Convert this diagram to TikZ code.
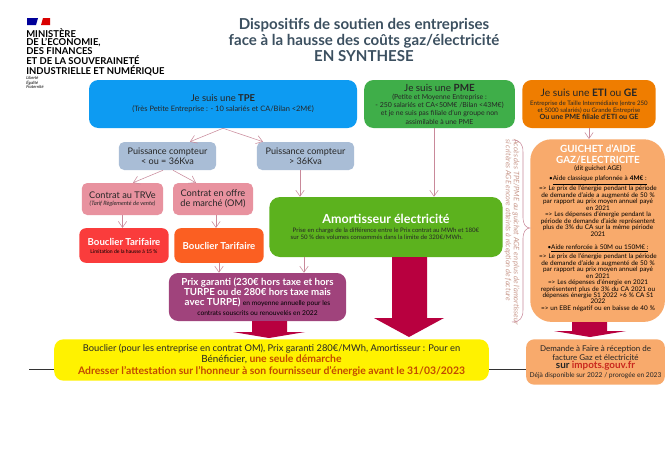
\documentclass[tikz,border=0pt]{standalone}
\usepackage{fontspec}
\usepackage{xcolor}
\setmainfont{Lato}
\usetikzlibrary{arrows.meta, positioning}
\definecolor{tpeblue}{HTML}{0D9BF2}
\definecolor{pmegreen}{HTML}{3FAE49}
\definecolor{etiorange}{HTML}{EF7D00}
\definecolor{steelbox}{HTML}{A9BDD6}
\definecolor{rosebox}{HTML}{E8929F}
\definecolor{bredbox}{HTML}{FA3C3C}
\definecolor{borangebox}{HTML}{FB5F22}
\definecolor{amortgreen}{HTML}{5CB21E}
\definecolor{prixpurple}{HTML}{A0437C}
\definecolor{sandbox}{HTML}{F8AA6C}
\definecolor{bigred}{HTML}{B8003F}
\definecolor{titleslate}{HTML}{3C5060}
\definecolor{linkpink}{HTML}{C9899A}
\definecolor{redtext}{HTML}{C8281E}
\definecolor{demtext}{HTML}{C24A00}
\definecolor{renvoitext}{HTML}{C9998C}
\newcommand{\fs}[2]{\fontsize{#1}{#2}\selectfont}
\begin{document}
\begin{tikzpicture}[
    x=0.75pt, y=-0.75pt,
    card/.style={rectangle, rounded corners=7pt, inner sep=1pt, align=center,
                 text=black!85, minimum width=#1},
    link/.style={-{Straight Barb[length=1.6mm,width=2.2mm]}, draw=linkpink, line width=0.4pt},
    bigarr/.style={fill=bigred, draw=none},
    wire/.style={draw=black!80, line width=0.7pt}
]
\useasboundingbox[fill=white] (0,0) rectangle (665,450);

% logo
\fill[blue!60!black] (27,18) -- (38,18) -- (36,25) -- (27,25) -- cycle;
\fill[red!85!black] (41,25) -- (43,18) -- (50,18) -- (50,25) -- cycle;
\node[anchor=north west, inner sep=0pt, align=left, font=\fs{7.1}{6.4}\bfseries] (logo) at (26,28)
    {MINISTÈRE\\DE L'ECONOMIE,\\DES FINANCES\\ET DE LA SOUVERAINETÉ\\INDUSTRIELLE ET NUMÉRIQUE};
\node[below=0pt of logo.south west, anchor=north west, inner sep=0pt, align=left, font=\fs{3.2}{3.4}\itshape] (devise)
    {Liberté\\Égalité\\Fraternité};

% title
\node[align=center, text=titleslate, font=\fs{11.3}{11.8}\bfseries] (title) at (364,40)
    {Dispositifs de soutien des entreprises\\face à la hausse des coûts gaz/électricité\\EN SYNTHESE};

% top row
\node[card=201pt, fill=tpeblue, minimum height=36pt, font=\fs{5}{7.4}] (tpe) at (223,104)
    {\fs{7.1}{9}Je suis une \textbf{TPE}\\\fs{5.6}{5.6}(Très Petite Entreprise : - 10 salariés et CA/Bilan <2M€)};
\node[card=113pt, fill=pmegreen, minimum height=36pt, font=\fs{5.2}{6.2}] (pme) at (439.5,104)
    {\fs{7.4}{8}Je suis une \textbf{PME}\\
     (Petite et Moyenne Entreprise :\\
     - 250 salariés et CA<50M€ /Bilan <43M€)\\
     et je ne suis pas filiale d'un groupe non\\
     assimilable à une PME};
\node[card=100pt, fill=etiorange, minimum height=36pt, font=\fs{5.4}{5.3}] (eti) at (589,104)
    {\fs{7.7}{8}Je suis une \textbf{ETI} ou \textbf{GE}\\[1.5pt]
     \fs{4.6}{4.8}Entreprise de Taille Intermédiaire (entre 250\\
     \fs{4.6}{4.8}et 5000 salariés) ou Grande Entreprise\\
     \textbf{Ou une PME filiale d'ETI ou GE}};

% compteur
\node[card=73pt, fill=steelbox, minimum height=21pt, rounded corners=4pt, font=\fs{6.8}{7.6}] (petit) at (167.5,156)
    {Puissance compteur\\< ou = 36Kva};
\node[card=73pt, fill=steelbox, minimum height=21pt, rounded corners=4pt, font=\fs{6.8}{7.6}] (grand) at (305.5,156)
    {Puissance compteur\\> 36Kva};

% contrats
\node[card=61pt, fill=rosebox, minimum height=24pt, rounded corners=4pt, font=\fs{4.4}{5.6}] (trve) at (122.5,199)
    {\fs{6.9}{7.4}Contrat au TRVe\\\textit{(Tarif Règlementé de vente)}};
\node[card=60pt, fill=rosebox, minimum height=24pt, rounded corners=4pt, font=\fs{6.9}{7.6}] (offre) at (213,199)
    {Contrat en offre\\de marché (OM)};

% boucliers
\node[card=67pt, fill=bredbox, minimum height=26pt, rounded corners=5pt, text=white, font=\fs{3.8}{6}] (brouge) at (124,245.5)
    {\fs{7.2}{8}\textbf{Bouclier Tarifaire}\\\textcolor{black}{Limitation de la hausse à 15 \%}};
\node[card=67pt, fill=borangebox, minimum height=26pt, rounded corners=5pt, text=white, font=\fs{7.2}{8}\bfseries] (borange) at (219,245.5)
    {Bouclier Tarifaire};

% amortisseur
\node[card=175pt, fill=amortgreen, minimum height=45pt, rounded corners=8pt, font=\fs{4.6}{5.4}] (amort) at (386,227)
    {\fs{9.4}{10}\textbf{\textcolor{white}{Amortisseur électricité}}\\[1.5pt]
     Prise en charge de la différence entre le Prix contrat au MWh et 180€\\
     sur 50 \% des volumes consommés dans la limite de 320€/MWh.\hspace*{14pt}};

% prix garanti
\node[card=133pt, fill=prixpurple, minimum height=36pt, text=white, font=\fs{7.3}{7.6}] (prix) at (257.5,297)
    {\textbf{Prix garanti (230€ hors taxe et hors}\\
     \textbf{TURPE ou de 280€ hors taxe mais}\\
     \textbf{avec TURPE)} \fs{5}{5.6}\textcolor{black}{en moyenne annuelle pour les}\\
     \fs{5}{5.6}\textcolor{black}{contrats souscrits ou renouvelés en 2022}};

% guichet
\node[card=101pt, fill=sandbox, minimum height=137pt, rounded corners=16pt, anchor=north west] (age) at (530,139) {};
\node[align=center, inner sep=0pt, anchor=north, text=white, font=\fs{7.4}{8.2}\bfseries] (agetitle) at (598,145)
    {GUICHET d'AIDE\\GAZ/ELECTRICITE};
\node[below=0.5pt of agetitle, inner sep=0pt, align=center, font=\fs{4.8}{6}] (agedit) {(dit guichet AGE)};
\node[below=3pt of agedit, inner sep=0pt, align=center, text width=94pt, font=\fs{4.3}{4.85}] (agetext)
    {\fs{4.8}{4.85}•\underline{Aide classique plafonnée à \textbf{4M€} :}\\
     => Le prix de l'énergie pendant la période\\de demande d'aide a augmenté de 50 \%\\par rapport au prix moyen annuel payé\\en 2021\\
     => Les dépenses d'énergie pendant la\\période de demande d'aide représentent\\plus de 3\% du CA sur la même période\\2021\\[5.4pt]
     \fs{4.8}{4.85}•\underline{Aide renforcée à 50M ou 150M€ :}\\
     => Le prix de l'énergie pendant la période\\de demande d'aide a augmenté de 50 \%\\par rapport au prix moyen annuel payé\\en 2021\\
     => Les dépenses d'énergie en 2021\\représentent plus de 3\% du CA 2021 ou\\dépenses énergie S1 2022 >6 \% CA S1\\2022\\
     => un EBE négatif ou en baisse de 40 \%};

% bas
\node[card=326pt, fill=yellow, minimum height=31pt, font=\fs{7}{8.6}] (bilan) at (271.5,360)
    {Bouclier (pour les entreprise en contrat OM), Prix garanti 280€/MWh, Amortisseur : Pour en\\
     \fs{7.4}{8.6}Bénéficier, \textcolor{demtext}{\fs{7.8}{8.6}\textbf{une seule démarche}}\\
     \fs{7.8}{8.6}\textcolor{demtext}{\textbf{Adresser l'attestation sur l'honneur à son fournisseur d'énergie avant le 31/03/2023}}};
\node[card=104pt, fill=sandbox, minimum height=34pt, rounded corners=6pt, font=\fs{6}{6.4}] (demande) at (595.5,362)
    {Demande à Faire à réception de\\
     facture Gaz et électricité\\
     \fs{7.4}{7.6}\textbf{sur \textcolor{redtext}{impots.gouv.fr}}\\
     \fs{5}{4.8}Déjà disponible sur 2022 / prorogée en 2023};

% liens
\draw[link] (tpe.south) -- (petit.north -| 190,0);
\draw[link] (tpe.south) -- (grand.north -| 263,0);
\draw[link] (petit.south -| 163,0) -- (trve.north -| 133,0);
\draw[link] (petit.south -| 173,0) -- (offre.north -| 196,0);
\draw[link] (trve.south) -- (brouge.north -| trve.south);
\draw[link] (offre.south -| 216,0) -- (borange.north -| 216,0);
\draw[link] (grand.south -| 300,0) -- (amort.north -| 300,0);
\draw[link] (pme.south -| 434,0) -- (amort.north -| 434,0);
\draw[link] (eti.south) -- (age.north -| eti.south);
\draw[link] (borange.south) -- (prix.north -| borange.south);
\draw[link] (amort.south -| 304,0) -- (prix.north -| 304,0);

% grosses fleches
\fill[bigarr] (392,257) -- (427,257) -- (427,318) -- (444,318) -- (409,337) -- (374,318) -- (392,318) -- cycle;
\fill[bigarr] (252,321) -- (287,321) -- (287,332) -- (305,332) -- (269,338) -- (233,332) -- (252,332) -- cycle;
\fill[bigarr] (572,322) -- (607,322) -- (607,331) -- (626,331) -- (590,337) -- (554,331) -- (572,331) -- cycle;

% traits
\coordinate (stub) at (29,369);
\draw[wire] (stub) -- (bilan.west |- stub);
\draw[wire] (bilan.east |- stub) -- (demande.west |- stub);

% renvoi
\node[rotate=-90, align=left, text=renvoitext, inner sep=0pt, font=\fs{5.6}{6}\itshape] (renvoi) at (512,232)
    {Accès des TPE/PME au guichet AGE en plus de l'amortisseur\\si critères AGE encore atteints à réception de facture};
\draw[draw=linkpink, line width=0.4pt] (512,140) .. controls (520,140) and (523,144) .. (523,152) -- (523,218)
    .. controls (523,224) and (526,228) .. (age.west |- 0,228) .. controls (526,228) and (523,232) .. (523,238) -- (523,310)
    .. controls (523,318) and (520,322) .. (512,322);
\end{tikzpicture}
\end{document}
